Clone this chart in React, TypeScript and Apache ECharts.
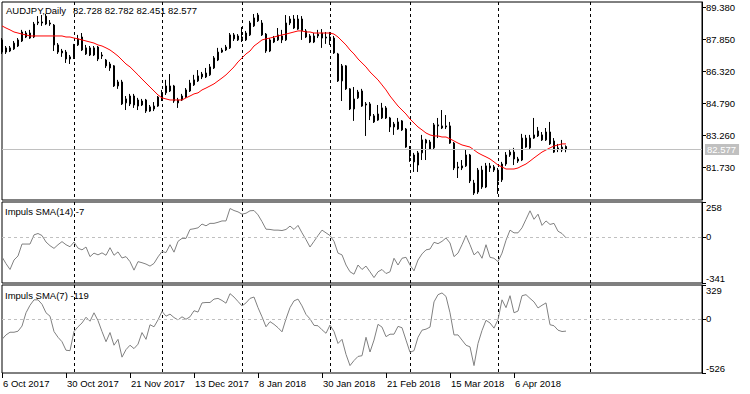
import React, { useEffect, useRef } from "react";
import * as echarts from "echarts";

// ---- price bars (daily AUDJPY) ----
const OPEN = [
  87.82, 87.44, 87.29, 87.39, 87.53, 87.77, 88.15, 87.91, 87.96, 88.63,
  88.68, 88.96, 88.63, 88.53, 87.58, 87.29, 87.24, 87.01, 86.96, 87.58,
  87.96, 87.15, 87.44, 87.10, 87.48, 87.10, 86.86, 86.67, 86.58, 85.62,
  85.81, 84.81, 85.14, 84.71, 84.95, 84.71, 84.95, 84.42, 84.52, 84.66,
  85.00, 85.29, 85.38, 85.62, 84.95, 84.95, 85.09, 85.38, 85.67, 85.86,
  86.05, 86.05, 86.15, 86.48, 86.86, 87.34, 87.34, 87.44, 88.06, 87.82,
  87.87, 87.82, 88.06, 88.49, 88.73, 88.63, 88.10, 87.29, 87.72, 87.82,
  88.01, 87.82, 88.63, 88.39, 88.34, 88.82, 88.25, 88.01, 87.72, 88.01,
  88.15, 87.91, 87.96, 87.91, 87.15, 85.86, 86.58, 85.48, 84.52, 85.05,
  85.38, 84.76, 84.76, 84.19, 83.99, 84.09, 84.57, 84.09, 83.66, 83.90,
  83.95, 83.56, 82.70, 82.32, 81.84, 82.42, 83.04, 82.94, 82.66, 83.71,
  83.61, 83.71, 83.71, 82.89, 81.75, 81.70, 81.80, 82.32, 80.98, 80.55,
  81.60, 80.79, 81.80, 81.60, 81.60, 81.13, 81.89, 82.32, 82.46, 82.13,
  82.08, 83.13, 82.66, 83.13, 83.47, 83.28, 83.04, 83.42, 82.99, 82.66,
  82.56, 82.728,
];
const CLOSE = [
  87.24, 87.24, 87.44, 87.67, 87.82, 88.20, 87.96, 88.15, 88.58, 88.68,
  88.63, 88.58, 88.58, 87.58, 87.24, 87.20, 86.91, 86.91, 87.58, 87.87,
  87.34, 87.44, 87.10, 87.44, 86.91, 87.05, 86.58, 86.48, 85.62, 85.81,
  84.76, 85.00, 84.76, 85.14, 84.66, 84.90, 84.42, 84.62, 84.66, 85.09,
  85.29, 85.62, 85.62, 84.90, 84.81, 85.14, 85.43, 85.76, 85.91, 86.10,
  86.19, 86.24, 86.53, 86.96, 87.24, 87.24, 87.48, 88.06, 87.87, 88.01,
  87.96, 88.15, 88.63, 88.87, 89.01, 88.06, 87.29, 87.82, 87.91, 88.06,
  87.82, 88.63, 88.82, 88.82, 88.82, 88.25, 87.96, 87.72, 88.01, 88.10,
  87.91, 87.96, 87.91, 87.20, 85.86, 86.58, 85.48, 84.52, 85.00, 85.33,
  84.66, 84.71, 84.19, 83.90, 84.28, 84.57, 84.09, 83.66, 83.80, 83.56,
  83.52, 82.70, 82.27, 81.99, 82.42, 83.04, 82.89, 82.61, 83.76, 83.76,
  83.71, 83.66, 82.89, 81.70, 81.70, 81.80, 82.32, 81.08, 80.50, 81.60,
  80.79, 81.80, 81.70, 81.75, 81.08, 81.89, 82.32, 82.46, 82.13, 82.03,
  83.13, 82.70, 83.13, 83.28, 83.23, 83.04, 83.42, 82.85, 82.46, 82.61,
  82.70, 82.577,
];
const LOW = [
  87.15, 87.15, 87.24, 87.34, 87.48, 87.72, 87.91, 87.87, 87.91, 88.53,
  88.49, 88.53, 88.49, 87.29, 87.15, 87.01, 86.72, 86.67, 86.91, 87.53,
  87.29, 87.10, 87.05, 87.05, 86.81, 86.91, 86.48, 86.34, 85.57, 85.48,
  84.71, 84.47, 84.66, 84.57, 84.47, 84.66, 84.33, 84.38, 84.42, 84.62,
  84.90, 85.19, 85.33, 84.81, 84.57, 84.90, 85.05, 85.33, 85.62, 85.81,
  85.95, 86.00, 86.10, 86.43, 86.81, 87.20, 87.29, 87.39, 87.77, 87.77,
  87.72, 87.77, 88.01, 88.44, 88.68, 88.01, 87.20, 87.24, 87.67, 87.77,
  87.67, 87.77, 88.53, 88.34, 88.30, 87.82, 87.91, 87.67, 87.67, 87.91,
  87.44, 87.63, 87.58, 87.15, 85.81, 84.90, 85.43, 84.47, 83.95, 85.00,
  84.62, 83.23, 83.99, 83.85, 83.95, 84.04, 84.04, 83.42, 83.28, 83.52,
  83.47, 82.66, 81.99, 81.51, 81.51, 82.08, 82.08, 82.56, 82.56, 83.13,
  83.56, 83.56, 82.85, 81.60, 81.22, 81.60, 81.75, 80.98, 80.41, 80.46,
  80.70, 80.74, 81.51, 81.51, 80.46, 81.03, 81.80, 82.23, 81.84, 81.94,
  82.03, 82.66, 82.61, 83.09, 83.18, 82.99, 82.99, 82.80, 82.42, 82.46,
  82.46, 82.451,
];
const HIGH = [
  87.91, 87.53, 87.53, 87.77, 87.91, 88.30, 88.25, 88.30, 88.68, 88.96,
  89.01, 89.06, 88.77, 88.58, 87.67, 87.39, 87.34, 87.10, 87.63, 88.06,
  88.15, 87.58, 87.53, 87.53, 87.53, 87.24, 86.91, 86.77, 86.62, 85.91,
  85.91, 85.14, 85.24, 85.24, 85.05, 85.00, 85.00, 84.71, 84.85, 85.14,
  85.43, 85.91, 86.19, 85.67, 85.05, 85.24, 85.52, 85.91, 86.15, 86.38,
  86.29, 86.48, 86.67, 87.05, 87.44, 87.44, 87.58, 88.15, 88.15, 88.10,
  88.44, 88.25, 88.73, 89.06, 89.11, 88.77, 88.15, 87.91, 88.01, 88.39,
  88.30, 89.01, 88.96, 89.01, 89.01, 88.96, 88.34, 88.10, 88.15, 88.30,
  88.34, 88.20, 88.20, 88.01, 87.20, 86.67, 86.62, 85.52, 85.57, 85.43,
  85.48, 84.85, 84.85, 84.28, 84.71, 84.81, 84.66, 84.14, 83.90, 84.09,
  83.99, 83.61, 82.75, 82.42, 82.51, 83.28, 83.09, 83.04, 83.85, 84.09,
  84.47, 84.23, 83.90, 82.94, 81.99, 82.08, 82.56, 82.37, 81.13, 81.70,
  81.80, 81.94, 81.94, 81.84, 81.70, 81.99, 82.46, 82.61, 82.66, 82.23,
  83.33, 83.28, 83.28, 84.09, 83.66, 83.42, 83.61, 83.90, 83.13, 82.85,
  83.04, 82.782,
];
// red moving average
const MA = [
  88.49, 88.39, 88.30, 88.20, 88.15, 88.10, 88.06, 88.01, 88.01, 88.01,
  88.01, 88.01, 88.01, 88.01, 88.01, 88.01, 87.96, 87.96, 87.91, 87.87,
  87.82, 87.77, 87.72, 87.67, 87.58, 87.53, 87.44, 87.34, 87.20, 87.05,
  86.86, 86.67, 86.53, 86.34, 86.15, 85.95, 85.76, 85.57, 85.38, 85.19,
  85.05, 85.00, 84.95, 84.95, 84.95, 84.95, 85.05, 85.14, 85.24, 85.29,
  85.43, 85.52, 85.62, 85.72, 85.86, 86.00, 86.15, 86.34, 86.53, 86.77,
  86.96, 87.15, 87.29, 87.53, 87.67, 87.82, 87.87, 87.91, 87.96, 88.01,
  88.06, 88.10, 88.15, 88.20, 88.25, 88.25, 88.20, 88.20, 88.15, 88.15,
  88.15, 88.15, 88.15, 88.10, 87.96, 87.77, 87.58, 87.34, 87.15, 86.91,
  86.72, 86.53, 86.29, 86.10, 85.91, 85.67, 85.43, 85.14, 84.90, 84.66,
  84.47, 84.28, 84.04, 83.85, 83.66, 83.52, 83.37, 83.28, 83.23, 83.23,
  83.18, 83.18, 83.09, 82.99, 82.89, 82.80, 82.75, 82.70, 82.56, 82.42,
  82.32, 82.23, 82.13, 81.99, 81.84, 81.75, 81.65, 81.65, 81.65, 81.70,
  81.80, 81.89, 82.03, 82.18, 82.32, 82.46, 82.56, 82.66, 82.75, 82.80,
  82.85, 82.85,
];
// Impuls SMA(14)
const IMP14 = [
  -148, -198, -241, -171, -141, -53, -53, -53, 15, 25,
  10, -38, -65, -85, -58, -35, -58, -73, -38, -83,
  -96, -75, -146, -120, -133, -118, -136, -80, -136, -111,
  -156, -146, -183, -246, -183, -191, -201, -216, -196, -148,
  -108, -116, -58, -113, -33, -11, -11, 55, 60, 67,
  95, 82, 100, 100, 108, 118, 118, 210, 195, 185,
  168, 175, 193, 195, 163, 113, 57, 55, 50, 50,
  47, 55, 80, 55, 85, 30, -20, -75, -33, 10,
  50, 30, 10, -33, -120, -133, -208, -258, -276, -208,
  -241, -216, -258, -301, -258, -241, -271, -258, -158, -208,
  -158, -151, -208, -251, -171, -126, -96, -90, -40, -50,
  -33, -8, -45, -146, -120, -58, 10, -58, -133, -108,
  -158, -58, -151, -158, -183, -120, -25, 50, 30, 30,
  67, 130, 193, 130, 168, 85, 118, 92, 100, 42,
  25, -7,
];
// Impuls SMA(7)
const IMP7 = [
  -199, -156, -130, -130, -120, -70, 59, 132, 185, 185,
  142, 59, 26, -123, -179, -222, -305, -309, -123, -77,
  -40, 16, -23, 59, -17, -123, -222, -133, -256, -199,
  -372, -299, -256, -289, -246, -133, -199, -57, -77, -10,
  73, 26, 46, 13, -10, 20, -4, 20, 79, 66,
  155, 159, 159, 192, 199, 179, 152, 245, 212, 169,
  126, 155, 199, 212, 109, 20, -77, -27, -53, -86,
  -126, 0, 109, 175, 192, 126, 43, 0, -63, -67,
  -106, -140, -60, -123, -239, -199, -345, -454, -405, -365,
  -358, -179, -322, -206, -53, -80, -173, -149, -149, -73,
  -86, -206, -325, -309, -179, -110, -100, -80, 165, 235,
  252, 218, 59, -156, -156, -206, -256, -272, -454, -239,
  -113, -14, -40, -90, -7, 185, 109, 225, 59, 76,
  225, 235, 199, 165, 106, 132, 155, -57, -67, -110,
  -123, -119,
];

const TICK_LABELS = [
  "6 Oct 2017", "30 Oct 2017", "21 Nov 2017", "13 Dec 2017", "8 Jan 2018",
  "30 Jan 2018", "21 Feb 2018", "15 Mar 2018", "6 Apr 2018",
];
const TICK_STEP = 16;
const PRICE_TICKS = [81.73, 83.26, 84.79, 86.32, 87.85, 89.38];
const IMP14_TICKS = [-341, 0, 258];
const IMP7_TICKS = [-526, 0, 329];
const SEPARATOR_BARS = [18, 40, 60, 82, 102, 124, 147];
const LAST = { open: 82.728, high: 82.782, low: 82.451, close: 82.577 };
const SLOTS = 176;

function buildCategories(): string[] {
  const out: string[] = [];
  const d = new Date(Date.UTC(2017, 9, 6));
  const months = ["Jan", "Feb", "Mar", "Apr", "May", "Jun", "Jul", "Aug", "Sep", "Oct", "Nov", "Dec"];
  while (out.length < SLOTS) {
    const wd = d.getUTCDay();
    const m = d.getUTCMonth();
    const day = d.getUTCDate();
    const holiday = (m === 11 && day === 25) || (m === 0 && day === 1);
    if (wd !== 0 && wd !== 6 && !holiday) {
      out.push(`${day} ${months[m]} ${d.getUTCFullYear()}`);
    }
    d.setUTCDate(d.getUTCDate() + 1);
  }
  return out;
}

const FONT = "'Liberation Sans', Arial, sans-serif";
const FS = 9.5;

export default function App() {
  const ref = useRef<HTMLDivElement>(null);
  useEffect(() => {
    document.body.style.margin = "0";
    const chart = echarts.init(ref.current!, null, { renderer: "svg" });
    const categories = buildCategories();
    const isTick = (i: number) => i % TICK_STEP === 0 && i / TICK_STEP < TICK_LABELS.length;
    const isSep = (i: number) => SEPARATOR_BARS.indexOf(i) >= 0;

    const xAxis = (gridIndex: number, labels: boolean) => ({
      type: "category",
      gridIndex,
      position: "bottom",
      data: categories,
      boundaryGap: false,
      axisLine: { show: false, onZero: false },
      axisTick: labels
        ? { show: true, interval: (i: number) => isTick(i), length: 5, lineStyle: { color: "#000" } }
        : { show: false },
      axisLabel: labels
        ? {
            show: true,
            interval: (i: number) => isTick(i),
            formatter: (_v: string, i: number) => TICK_LABELS[i / TICK_STEP] ?? "",
            align: "left",
            margin: 5,
            color: "#000",
            fontSize: FS,
            fontFamily: FONT,
            padding: [0, 0, 0, 1],
          }
        : { show: false },
      splitLine: {
        show: true,
        interval: (i: number) => isSep(i),
        lineStyle: { color: "#000", type: [3, 3], width: 1 },
      },
    });

    const yAxis = (gridIndex: number, min: number, max: number, ticks: number[], fmt: (v: number) => string) => ({
      type: "value",
      gridIndex,
      position: "right",
      min,
      max,
      axisLine: { show: true, onZero: false, lineStyle: { color: "#000" } },
      axisTick: { show: true, customValues: ticks, length: 4, lineStyle: { color: "#000" } },
      axisLabel: {
        show: true,
        customValues: ticks,
        formatter: fmt,
        margin: 4,
        color: "#000",
        fontSize: FS,
        fontFamily: FONT,
        verticalAlignMinLabel: gridIndex === 0 ? "middle" : "bottom",
        verticalAlignMaxLabel: gridIndex === 0 ? "middle" : "top",
      },
      splitLine: { show: false },
    });

    const gridStyle = { show: true, borderColor: "#000", borderWidth: 1, backgroundColor: "#fff" };
    const titleStyle = { color: "#000", fontSize: FS, fontWeight: "normal", fontFamily: FONT };

    const option = {
      animation: false,
      backgroundColor: "#fff",
      title: [
        { text: "AUDJPY,Daily", left: 6, top: 5, padding: 0, textStyle: titleStyle },
        {
          text: `${LAST.open.toFixed(3)} ${LAST.high.toFixed(3)} ${LAST.low.toFixed(3)} ${LAST.close.toFixed(3)}`,
          left: 73, top: 5, padding: 0, textStyle: titleStyle,
        },
        { text: `Impuls SMA(14) ${IMP14[IMP14.length - 1]}`, left: 5, top: 206, padding: 0, textStyle: titleStyle },
        { text: `Impuls SMA(7) ${IMP7[IMP7.length - 1]}`, left: 5, top: 290, padding: 0, textStyle: titleStyle },
      ],
      grid: [
        { left: 2, top: 2, width: 700, height: 198, ...gridStyle },
        { left: 2, top: 202, width: 700, height: 81, ...gridStyle },
        { left: 2, top: 285, width: 700, height: 88, ...gridStyle },
      ],
      xAxis: [xAxis(0, false), xAxis(1, false), xAxis(2, true)],
      yAxis: [
        yAxis(0, 80.169, 89.633, PRICE_TICKS, (v: number) => v.toFixed(3)),
        yAxis(1, -341, 258, IMP14_TICKS, (v: number) => String(v)),
        yAxis(2, -526, 329, IMP7_TICKS, (v: number) => String(v)),
      ],
      series: [
        {
          type: "candlestick",
          xAxisIndex: 0,
          yAxisIndex: 0,
          barWidth: 2,
          data: OPEN.map((o, i) => [o, CLOSE[i], LOW[i], HIGH[i]]),
          itemStyle: {
            color: "#ffffff",
            color0: "#000000",
            borderColor: "#000000",
            borderColor0: "#000000",
            borderWidth: 1,
          },
          markLine: {
            silent: true,
            symbol: "none",
            animation: false,
            lineStyle: { color: "#c0c0c0", type: "solid", width: 1 },
            label: {
              show: true,
              position: "end",
              distance: 3,
              formatter: LAST.close.toFixed(3),
              backgroundColor: "#c0c0c0",
              color: "#ffffff",
              padding: [1, 3, 0, 2],
              fontSize: FS,
              fontFamily: FONT,
            },
            data: [{ yAxis: LAST.close }],
          },
          z: 3,
        },
        {
          type: "line",
          xAxisIndex: 0,
          yAxisIndex: 0,
          data: MA,
          symbol: "none",
          lineStyle: { color: "#ff0000", width: 1 },
          z: 4,
        },
        {
          type: "line",
          xAxisIndex: 1,
          yAxisIndex: 1,
          data: IMP14,
          symbol: "none",
          lineStyle: { color: "#808080", width: 1 },
          markLine: {
            silent: true,
            symbol: "none",
            label: { show: false },
            lineStyle: { color: "#c0c0c0", type: [3, 3], width: 1 },
            data: [{ yAxis: 0 }],
          },
        },
        {
          type: "line",
          xAxisIndex: 2,
          yAxisIndex: 2,
          data: IMP7,
          symbol: "none",
          lineStyle: { color: "#808080", width: 1 },
          markLine: {
            silent: true,
            symbol: "none",
            label: { show: false },
            lineStyle: { color: "#c0c0c0", type: [3, 3], width: 1 },
            data: [{ yAxis: 0 }],
          },
        },
      ],
    };
    chart.setOption(option as any);
    return () => chart.dispose();
  }, []);
  return <div ref={ref} style={{ width: 750, height: 394 }} />;
}
